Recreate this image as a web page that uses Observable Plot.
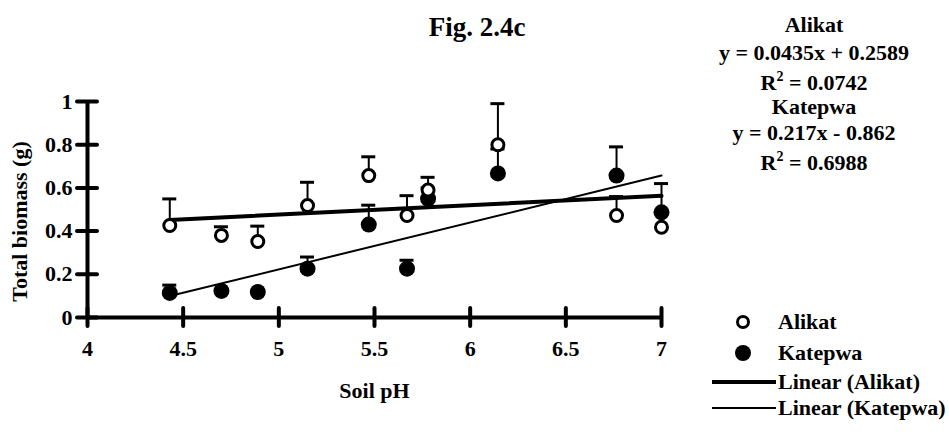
<!DOCTYPE html>
<html>
<head>
<meta charset="utf-8">
<script src="https://cdn.jsdelivr.net/npm/d3@7"></script>
<script src="https://cdn.jsdelivr.net/npm/@observablehq/plot@0.6"></script>
<style>
  html, body { margin: 0; padding: 0; background: #fff; }
  #wrap { position: relative; width: 949px; height: 432px; font-family: "Liberation Serif", "Times New Roman", serif; font-weight: bold; color: #000; }
  .t { position: absolute; font-size: 22px; line-height: 25px; white-space: nowrap; }
  .c { transform: translateX(-50%); text-align: center; }
  .leg { position: absolute; display: flex; align-items: center; font-size: 22px; line-height: 25px; white-space: nowrap; }
</style>
</head>
<body>
<div id="wrap"></div>
<script>
// ---- data ----
const soilPH      = [4.43, 4.70, 4.89, 5.15, 5.47, 5.67, 5.78, 6.145, 6.765, 7.00];
const alikatMean  = [0.426, 0.38, 0.352, 0.518, 0.657, 0.472, 0.59, 0.80, 0.472, 0.418];
const alikatTop   = [0.549, 0.42, 0.423, 0.626, 0.744, 0.564, 0.649, 0.99, 0.56, 0.49];
const katepwaMean = [0.114, 0.123, 0.118, 0.226, 0.43, 0.226, 0.55, 0.667, 0.657, 0.487];
const katepwaTop  = [0.15, null, null, 0.28, 0.52, 0.265, 0.60, 0.78, 0.79, 0.62];
const xTicks = [4, 4.5, 5, 5.5, 6, 6.5, 7];
const xTickLabels = ["4", "4.5", "5", "5.5", "6", "6.5", "7"];
const yTicks = [0, 0.2, 0.4, 0.6, 0.8, 1];
const yTickLabels = ["0", "0.2", "0.4", "0.6", "0.8", "1"];
const seriesNames = ["Alikat", "Katepwa"];
const slopes = [0.0435, 0.217];
const intercepts = [0.2589, -0.862];
const equations = ["y = 0.0435x + 0.2589", "y = 0.217x - 0.862"];
const r2 = ["0.0742", "0.6988"];
const title = "Fig. 2.4c";
const xLabel = "Soil pH";
const yLabel = "Total biomass (g)";

// ---- tables ----
const alikat = soilPH.map((x, i) => ({x, y: alikatMean[i], top: alikatTop[i]}));
const katepwa = soilPH.map((x, i) => ({x, y: katepwaMean[i], top: katepwaTop[i]}));
const xMin = d3.min(soilPH), xMax = d3.max(soilPH);
const trends = seriesNames.map((s, k) => [
  {x: xMin, y: slopes[k] * xMin + intercepts[k]},
  {x: xMax, y: slopes[k] * xMax + intercepts[k]}
]);
const errA = alikat.filter(d => d.top != null);
const errK = katepwa.filter(d => d.top != null);

const font = "'Liberation Serif', 'Times New Roman', serif";

const chart = Plot.plot({
  width: 949,
  height: 432,
  marginLeft: 87,
  marginRight: 288,
  marginTop: 101,
  marginBottom: 115,
  x: {domain: [4, 7]},
  y: {domain: [0, 1]},
  style: {fontFamily: font, fontWeight: "bold", fontSize: "22px", color: "#000", background: "transparent", overflow: "visible"},
  marks: [
    Plot.axisX({ticks: xTicks, tickFormat: (d) => xTickLabels[xTicks.indexOf(d)], tickSize: 0, tickPadding: 23, label: null, fontSize: 22, fontWeight: "bold"}),
    Plot.axisY({ticks: yTicks, tickFormat: (d) => yTickLabels[yTicks.indexOf(d)], tickSize: 0, tickPadding: 15, label: null, fontSize: 22, fontWeight: "bold"}),
    // trend lines
    Plot.line(trends[0], {x: "x", y: "y", stroke: "#000", strokeWidth: 4}),
    Plot.line(trends[1], {x: "x", y: "y", stroke: "#000", strokeWidth: 2}),
    // error bars
    Plot.ruleX(errK, {x: "x", y1: "y", y2: "top", stroke: "#000", strokeWidth: 2}),
    Plot.ruleY(errK, {y: "top", x1: "x", x2: "x", insetLeft: -7, insetRight: -7, stroke: "#000", strokeWidth: 3}),
    Plot.ruleX(errA, {x: "x", y1: "y", y2: "top", stroke: "#000", strokeWidth: 2}),
    Plot.ruleY(errA, {y: "top", x1: "x", x2: "x", insetLeft: -7, insetRight: -7, stroke: "#000", strokeWidth: 3}),
    // points
    Plot.dot(katepwa, {x: "x", y: "y", r: 8, fill: "#000", stroke: "none"}),
    Plot.dot(alikat, {x: "x", y: "y", r: 6, fill: "#fff", stroke: "#000", strokeWidth: 3}),
    // axes lines with crossing ticks
    Plot.ruleY([0], {x1: 4, x2: 7, stroke: "#000", strokeWidth: 4}),
    Plot.ruleX([4], {y1: 0, y2: 1, stroke: "#000", strokeWidth: 4}),
    Plot.ruleX(xTicks, {x: (d) => d, y1: 0, y2: 0, insetTop: -9, insetBottom: -9, stroke: "#000", strokeWidth: 4, strokeLinecap: "round"}),
    Plot.ruleY(yTicks, {y: (d) => d, x1: 4, x2: 4, insetLeft: -10, insetRight: -10, stroke: "#000", strokeWidth: 4, strokeLinecap: "round"}),
    // axis titles
    Plot.text([xLabel], {text: (d) => d, frameAnchor: "bottom", dy: 80, fontSize: 22, fontWeight: "bold"}),
    Plot.text([yLabel], {text: (d) => d, frameAnchor: "left", textAnchor: "middle", rotate: -90, dx: -68, dy: 12, fontSize: 22, fontWeight: "bold"})
  ]
});

const wrap = document.getElementById("wrap");
wrap.appendChild(chart);

function addText(txt, left, top, html, size) {
  const d = document.createElement("div");
  d.className = "t c";
  d.style.left = left + "px";
  d.style.top = top + "px";
  if (size) { d.style.fontSize = size + "px"; d.style.lineHeight = Math.round(size * 1.15) + "px"; }
  if (html) d.innerHTML = txt; else d.textContent = txt;
  wrap.appendChild(d);
}
addText(title, 477, 12, false, 27);
const eqX = 814;
const eqTops = [[12, 40, 70], [94, 120, 150]];
seriesNames.forEach((s, k) => {
  addText(s, eqX, eqTops[k][0]);
  addText(equations[k], eqX, eqTops[k][1]);
  addText("R<sup style='font-size:14px;vertical-align:9px;line-height:0'>2</sup> = " + r2[k], eqX, eqTops[k][2], true);
});

// legend
const legendItems = [
  {label: seriesNames[0], sym: "<circle cx='31' cy='8' r='5.5' fill='#fff' stroke='#000' stroke-width='3'/>"},
  {label: seriesNames[1], sym: "<circle cx='31' cy='8' r='8' fill='#000'/>"},
  {label: "Linear (" + seriesNames[0] + ")", sym: "<line x1='0' x2='64' y1='8' y2='8' stroke='#000' stroke-width='4'/>"},
  {label: "Linear (" + seriesNames[1] + ")", sym: "<line x1='0' x2='64' y1='8' y2='8' stroke='#000' stroke-width='2'/>"}
];
const legTops = [309, 340, 369, 395];
legendItems.forEach((it, i) => {
  const d = document.createElement("div");
  d.className = "leg";
  d.style.left = "712px";
  d.style.top = legTops[i] + "px";
  d.innerHTML = `<svg width="64" height="16" style="margin-right:2px;overflow:visible">${it.sym}</svg><span>${it.label}</span>`;
  wrap.appendChild(d);
});
</script>
</body>
</html>
